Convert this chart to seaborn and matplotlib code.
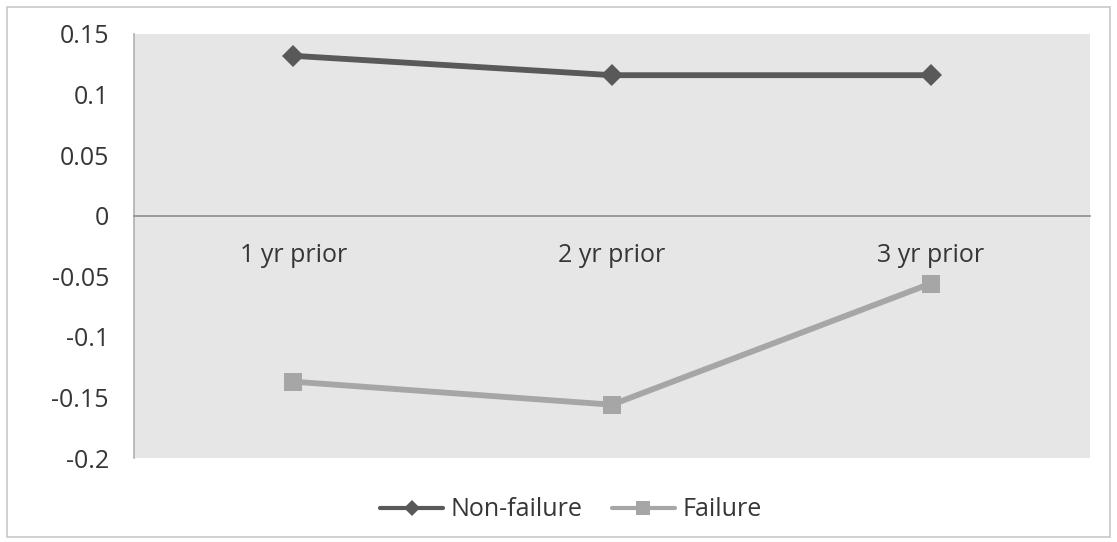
import matplotlib
matplotlib.use("Agg")
import matplotlib.pyplot as plt
import seaborn as sns
import pandas as pd
from matplotlib.patches import Rectangle

periods = ["1 yr prior", "2 yr prior", "3 yr prior"]
non_failure = [0.132, 0.116, 0.116]
failure = [-0.137, -0.156, -0.056]
series_names = ["Non-failure", "Failure"]
y_ticks = [0.15, 0.1, 0.05, 0, -0.05, -0.1, -0.15, -0.2]
y_tick_labels = ["0.15", "0.1", "0.05", "0", "-0.05", "-0.1", "-0.15", "-0.2"]

df = pd.DataFrame({
    "period": periods * 2,
    "value": non_failure + failure,
    "series": [series_names[0]] * 3 + [series_names[1]] * 3,
})

sns.set_style("white")
plt.rcParams["font.family"] = ["Open Sans", "DejaVu Sans"]

FS = 18
TXT = "#363636"

fig = plt.figure(figsize=(11.17, 5.42), dpi=100)
ax = fig.add_axes([134 / 1117, 1 - 458 / 542, (1090 - 134) / 1117, (458 - 34) / 542])

palette = {"Non-failure": "#595959", "Failure": "#a6a6a6"}
sns.lineplot(data=df, x="period", y="value", hue="series", style="series",
             markers={"Non-failure": "D", "Failure": "s"}, dashes=False,
             palette=palette, linewidth=4.2, markersize=13,
             markeredgewidth=0, ax=ax, sort=False)
for line in ax.get_lines():
    if line.get_marker() == "D":
        line.set_markersize(11)

ax.set_facecolor("#e6e6e6")
ax.set_xlim(-0.5, 2.5)
ax.set_ylim(-0.2, 0.15)
ax.set_yticks(y_ticks)
ax.set_yticklabels(y_tick_labels)
ax.set_xlabel("")
ax.set_ylabel("")

for side in ["top", "right"]:
    ax.spines[side].set_visible(False)
ax.spines["left"].set_color("#b0b0b0")
ax.spines["left"].set_linewidth(1.2)
ax.spines["bottom"].set_position(("data", 0))
ax.spines["bottom"].set_color("#8c8c8c")
ax.spines["bottom"].set_linewidth(1.2)
ax.tick_params(axis="x", length=0, pad=20, labelsize=FS, colors=TXT)
ax.tick_params(axis="y", length=0, pad=18, labelsize=FS, colors=TXT)

leg = ax.legend(loc="upper center", bbox_to_anchor=(0.457, -0.04), ncol=2,
                frameon=False, fontsize=FS, handlelength=2.5,
                handletextpad=0.3, columnspacing=1.2, markerscale=0.75)
for t in leg.get_texts():
    t.set_color(TXT)
for h in leg.legend_handles:
    h.set_linewidth(3.0)

fig.patches.append(Rectangle((7 / 1117, 5 / 542), 1103 / 1117, 530 / 542,
                             transform=fig.transFigure, fill=False,
                             edgecolor="#c8c8c8", linewidth=1.2))

fig.savefig("out.png", dpi=100, facecolor="white")
